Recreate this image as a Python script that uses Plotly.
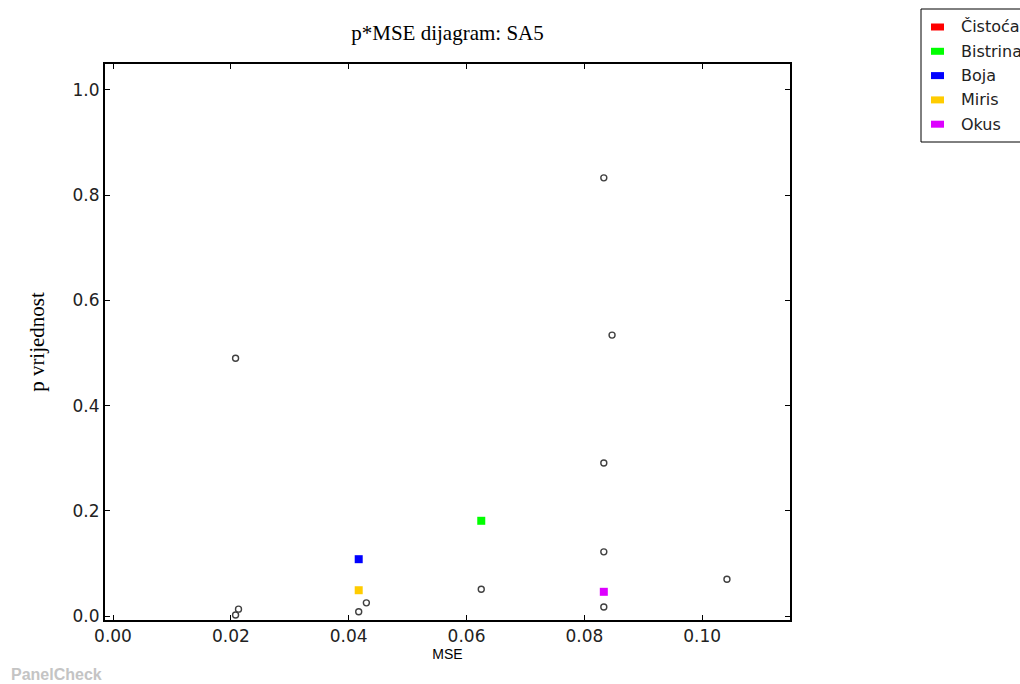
import plotly.graph_objects as go

# Highlighted attributes (coloured squares)
attributes = ["Čistoća", "Bistrina", "Boja", "Miris", "Okus"]
attr_colors = ["#ff0000", "#00ff00", "#0000ff", "#ffcc00", "#dd00ff"]
attr_mse = [[], [0.0625], [0.0417], [0.0417], [0.0833]]
attr_p = [[], [0.181], [0.108], [0.049], [0.046]]

# Remaining attribute/assessor combinations (open circles)
other_mse = [0.0208, 0.0208, 0.0213, 0.0417, 0.0430, 0.0625,
             0.0833, 0.0847, 0.0833, 0.0833, 0.0833, 0.1042]
other_p = [0.490, 0.002, 0.013, 0.008, 0.025, 0.051,
           0.833, 0.534, 0.291, 0.122, 0.017, 0.070]

x_ticks = [0.00, 0.02, 0.04, 0.06, 0.08, 0.10]
y_ticks = [0.0, 0.2, 0.4, 0.6, 0.8, 1.0]

W, H = 1020, 684
ML, MR, MT, MB = 105, 230, 64, 64
PW, PH = W - ML - MR, H - MT - MB


def px(x):
    return (x - ML) / PW


def py(y):
    return (H - MB - y) / PH


fig = go.Figure()

fig.add_trace(go.Scatter(
    x=other_mse, y=other_p, mode="markers", showlegend=False,
    marker=dict(symbol="circle-open", size=6, color="#404040",
                line=dict(width=1.4, color="#404040")),
    hoverinfo="x+y",
))

for i, (name, col) in enumerate(zip(attributes, attr_colors)):
    fig.add_trace(go.Scatter(
        x=attr_mse[i], y=attr_p[i], mode="markers", name=name,
        showlegend=False,
        marker=dict(symbol="square", size=8, color=col, line=dict(width=0)),
    ))

# Legend box drawn in paper coordinates (runs past the right page edge)
shapes = [dict(type="rect", xref="paper", yref="paper",
               x0=px(921), x1=px(1060), y0=py(142), y1=py(9),
               line=dict(color="#000000", width=1), fillcolor="white", layer="above")]
annotations = []
for i, (name, col) in enumerate(zip(attributes, attr_colors)):
    yc = 27 + i * 24.3
    shapes.append(dict(type="rect", xref="paper", yref="paper",
                       x0=px(931), x1=px(944), y0=py(yc + 3.5), y1=py(yc - 3.5),
                       line=dict(width=0), fillcolor=col, layer="above"))
    annotations.append(dict(text=name, xref="paper", yref="paper",
                            x=px(959), y=py(yc), xanchor="left", yanchor="middle",
                            showarrow=False,
                            font=dict(family="DejaVu Sans", size=16, color="#222222")))

annotations.append(dict(text="<b>PanelCheck</b>", xref="paper", yref="paper",
                        x=px(9), y=py(674), xanchor="left", yanchor="middle",
                        showarrow=False,
                        font=dict(family="Liberation Sans Narrow, Liberation Sans",
                                  size=16, color="#c4c4c4")))

axis_common = dict(
    showline=True, linecolor="#000000", linewidth=2, mirror="ticks",
    ticks="inside", ticklen=5, tickwidth=1, tickcolor="#000000",
    showgrid=False, zeroline=False,
    tickfont=dict(family="DejaVu Sans", size=17, color="#222222"),
)

fig.update_layout(
    width=W, height=H,
    paper_bgcolor="white", plot_bgcolor="white",
    margin=dict(l=ML, r=MR, t=MT, b=MB, autoexpand=False),
    showlegend=False,
    title=dict(text="p*MSE dijagram: SA5", x=(ML + W - MR) / 2 / W,
               xanchor="center", y=1 - 33 / H, yanchor="middle",
               font=dict(family="Liberation Serif", size=21, color="#000000")),
    xaxis=dict(range=[-0.00136, 0.1149], tickvals=x_ticks,
               ticktext=[f"{v:.2f}" for v in x_ticks],
               title=dict(text="MSE", standoff=4,
                          font=dict(family="Liberation Sans", size=14, color="#000000")),
               **axis_common),
    yaxis=dict(range=[-0.0076, 1.0494], tickvals=y_ticks,
               ticktext=[f"{v:.1f}" for v in y_ticks],
               title=dict(text="p vrijednost", standoff=22,
                          font=dict(family="Liberation Serif", size=21, color="#000000")),
               **axis_common),
    shapes=shapes,
    annotations=annotations,
)

fig.write_html("out.html")
